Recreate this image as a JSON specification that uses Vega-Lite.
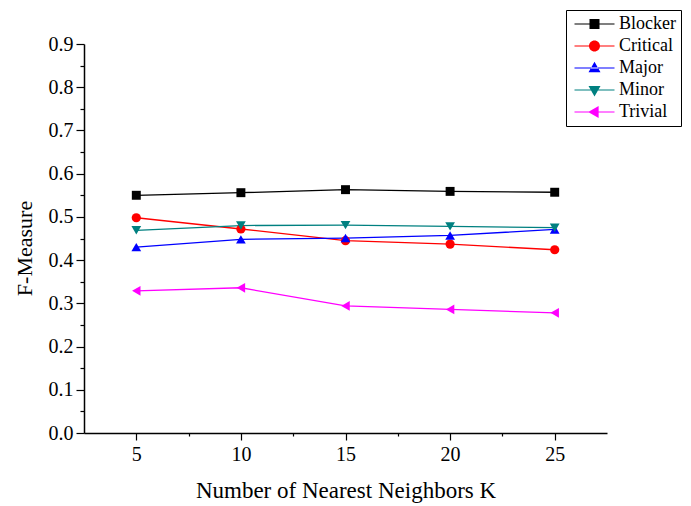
{
  "$schema": "https://vega.github.io/schema/vega-lite/v6.json",
  "width": 523,
  "height": 389,
  "autosize": "none",
  "padding": {"left": 84, "top": 44, "right": 84, "bottom": 73},
  "background": "white",
  "config": {
    "view": {"stroke": null},
    "font": "Liberation Serif",
    "axis": {"grid": false, "domainColor": "black", "domainWidth": 1.5, "tickColor": "black", "tickWidth": 1.2, "labelColor": "black", "titleColor": "black", "labelFont": "Liberation Serif", "titleFont": "Liberation Serif", "labelFontSize": 20, "titleFontSize": 21, "titleFontWeight": "normal"},
    "legend": {
      "orient": "none",
      "legendX": 482,
      "legendY": -34,
      "strokeColor": "black",
      "padding": 5,
      "symbolSize": 225,
      "symbolOffset": 14.5,
      "symbolStrokeWidth": 0,
      "symbolOpacity": 1,
      "labelOffset": 15.5,
      "labelFont": "Liberation Serif",
      "labelFontSize": 18,
      "labelColor": "black",
      "rowPadding": 4
    }
  },
  "data": {
    "values": [
      {"K": 5, "series": "Blocker", "F": 0.550},
      {"K": 10, "series": "Blocker", "F": 0.556},
      {"K": 15, "series": "Blocker", "F": 0.563},
      {"K": 20, "series": "Blocker", "F": 0.559},
      {"K": 25, "series": "Blocker", "F": 0.557},
      {"K": 5, "series": "Critical", "F": 0.498},
      {"K": 10, "series": "Critical", "F": 0.472},
      {"K": 15, "series": "Critical", "F": 0.445},
      {"K": 20, "series": "Critical", "F": 0.437},
      {"K": 25, "series": "Critical", "F": 0.424},
      {"K": 5, "series": "Major", "F": 0.430},
      {"K": 10, "series": "Major", "F": 0.448},
      {"K": 15, "series": "Major", "F": 0.451},
      {"K": 20, "series": "Major", "F": 0.457},
      {"K": 25, "series": "Major", "F": 0.471},
      {"K": 5, "series": "Minor", "F": 0.469},
      {"K": 10, "series": "Minor", "F": 0.480},
      {"K": 15, "series": "Minor", "F": 0.481},
      {"K": 20, "series": "Minor", "F": 0.478},
      {"K": 25, "series": "Minor", "F": 0.475},
      {"K": 5, "series": "Trivial", "F": 0.329},
      {"K": 10, "series": "Trivial", "F": 0.336},
      {"K": 15, "series": "Trivial", "F": 0.294},
      {"K": 20, "series": "Trivial", "F": 0.286},
      {"K": 25, "series": "Trivial", "F": 0.278}
    ]
  },
  "encoding": {
    "x": {
      "field": "K", "type": "quantitative",
      "scale": {"domain": [2.5, 27.5], "nice": false, "zero": false},
      "axis": {
        "title": "Number of Nearest Neighbors K",
        "titleFontSize": 23,
        "titleColor": "black",
        "values": [5, 7.5, 10, 12.5, 15, 17.5, 20, 22.5, 25],
        "labelExpr": "datum.value % 5 === 0 ? datum.label : ''",
        "tickSize": {"condition": {"test": "datum.value % 5 !== 0", "value": 3}, "value": 7},
        "labelPadding": 4,
        "titlePadding": 15
      }
    },
    "y": {
      "field": "F", "type": "quantitative",
      "scale": {"domain": [0, 0.9], "nice": false},
      "axis": {
        "title": "F-Measure",
        "titleFontSize": 22,
        "titleColor": "black",
        "titleX": -48,
        "titleY": 204,
        "values": [0, 0.05, 0.1, 0.15, 0.2, 0.25, 0.3, 0.35, 0.4, 0.45, 0.5, 0.55, 0.6, 0.65, 0.7, 0.75, 0.8, 0.85, 0.9],
        "labelExpr": "round(datum.value * 100) % 10 === 0 ? format(datum.value, '.1f') : ''",
        "tickSize": {"condition": {"test": "round(datum.value * 100) % 10 !== 0", "value": 4}, "value": 8},
        "labelPadding": 3
      }
    },
    "color": {
      "field": "series", "type": "nominal",
      "scale": {"domain": ["Blocker", "Critical", "Major", "Minor", "Trivial"], "range": ["#000000", "#ff0000", "#0000ff", "#008080", "#ff00ff"]},
      "legend": {"title": null}
    }
  },
  "layer": [
    {"mark": {"type": "line", "strokeWidth": 1.3}},
    {"transform": [{"filter": "datum.series === 'Blocker'"}], "mark": {"type": "point", "filled": true, "size": 80, "opacity": 1, "shape": "square"}},
    {"transform": [{"filter": "datum.series === 'Critical'"}], "mark": {"type": "point", "filled": true, "size": 85, "opacity": 1, "shape": "circle"}},
    {"transform": [{"filter": "datum.series === 'Major'"}], "mark": {"type": "point", "filled": true, "size": 95, "opacity": 1, "shape": "triangle-up"}},
    {"transform": [{"filter": "datum.series === 'Minor'"}], "mark": {"type": "point", "filled": true, "size": 95, "opacity": 1, "shape": "triangle-down"}},
    {"transform": [{"filter": "datum.series === 'Trivial'"}], "mark": {"type": "point", "filled": true, "size": 95, "opacity": 1, "shape": "triangle-left"}},
    {
      "mark": {"type": "point", "filled": true, "opacity": 0},
      "encoding": {
        "shape": {
          "field": "series", "type": "nominal",
          "scale": {"domain": ["Blocker", "Critical", "Major", "Minor", "Trivial"], "range": [
            "M-2.667,-0.08H2.667V0.08H-2.667ZM-0.667,-0.667H0.667V0.667H-0.667Z",
            "M-2.667,-0.08H2.667V0.08H-2.667ZM-0.733,0A0.733,0.733,0,1,1,0.733,0A0.733,0.733,0,1,1,-0.733,0Z",
            "M-2.667,-0.08H2.667V0.08H-2.667ZM-0.8,0.55L0.8,0.55L0,-0.85Z",
            "M-2.667,-0.08H2.667V0.08H-2.667ZM-0.8,-0.55L0.8,-0.55L0,0.85Z",
            "M-2.667,-0.08H2.667V0.08H-2.667ZM0.55,-0.8L0.55,0.8L-0.85,0Z"
          ]},
          "legend": {"title": null}
        }
      }
    }
  ]
}
